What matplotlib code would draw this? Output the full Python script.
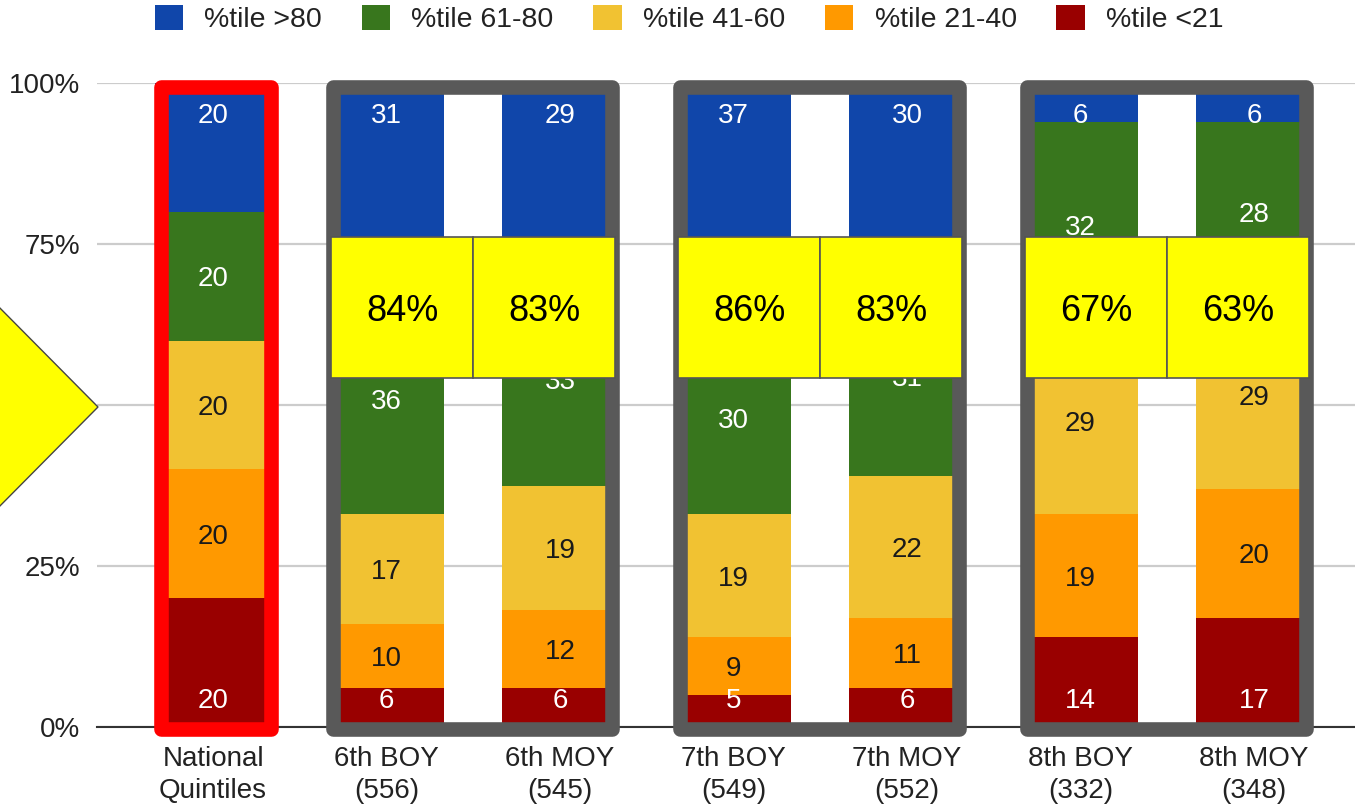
import numpy as np
import matplotlib
matplotlib.use('Agg')
import matplotlib.pyplot as plt
from matplotlib.patches import Rectangle, Polygon, Patch

plt.rcParams['font.family'] = ['Liberation Sans', 'DejaVu Sans']

# data
categories = ['National\nQuintiles', '6th BOY\n(556)', '6th MOY\n(545)', '7th BOY\n(549)',
              '7th MOY\n(552)', '8th BOY\n(332)', '8th MOY\n(348)']
# bottom to top
below21 = [20, 6, 6, 5, 6, 14, 17]
p21_40 = [20, 10, 12, 9, 11, 19, 20]
p41_60 = [20, 17, 19, 19, 22, 29, 29]
p61_80 = [20, 36, 33, 30, 31, 32, 28]
above80 = [20, 31, 29, 37, 30, 6, 6]
# share at or above 41st percentile, shown in the yellow boxes
top3_share = ['84%', '83%', '86%', '83%', '67%', '63%']

series_names = ['%tile <21', '%tile 21-40', '%tile 41-60', '%tile 61-80', '%tile >80']
colors = ['#990000', '#FF9900', '#F1C232', '#38761D', '#1046AA']
text_colors = ['white', '#1a1a1a', '#1a1a1a', 'white', 'white']

vals = np.array([below21, p21_40, p41_60, p61_80, above80], dtype=float)
shares = vals / vals.sum(axis=0)   # 100% stacked

fig = plt.figure(figsize=(13.55, 8.09), dpi=100)
ax = fig.add_axes([97 / 1355, 1 - 727 / 809, 1 - 97 / 1355, (727 - 83) / 809])

x = np.arange(len(categories))
bw = 0.665
bottom = np.zeros(len(categories))
for j in range(5):
    ax.bar(x, shares[j], bw, bottom=bottom, color=colors[j], zorder=2, linewidth=0)
    for i in range(len(categories)):
        if j == 0:
            ly = 0.045
        elif j == 4:
            ly = 0.953
        else:
            ly = bottom[i] + shares[j][i] / 2
        ax.text(x[i], ly, '%d' % vals[j][i], ha='center', va='center_baseline',
                fontsize=20, color=text_colors[j], zorder=3)
    bottom += shares[j]

ax.set_xlim(-0.669, 6.582)
ax.set_ylim(0, 1)
ax.set_yticks([0, 0.25, 0.5, 0.75, 1.0])
ax.set_yticklabels(['0%', '25%', '50%', '75%', '100%'])
ax.set_xticks(x)
ax.set_xticklabels(categories, fontsize=20, linespacing=1.3)
ax.tick_params(axis='y', length=0, pad=12, labelsize=20, labelcolor='#222222')
ax.tick_params(axis='x', length=0, pad=14, labelcolor='#222222')
ax.grid(axis='y', color='#cccccc', linewidth=1.6, zorder=0)
ax.set_axisbelow(True)
for s in ['left', 'right', 'top']:
    ax.spines[s].set_visible(False)
ax.spines['bottom'].set_color('#333333')
ax.spines['bottom'].set_linewidth(1.5)

# frames round the groups
ax.add_patch(Rectangle((-0.30, -0.003), 0.635, 0.997, fill=False, edgecolor='#FF0000',
                       linewidth=10.5, joinstyle='round', clip_on=False, zorder=4))
pair_centers = [1.5, 3.5, 5.5]
for pc in pair_centers:
    ax.add_patch(Rectangle((pc - 0.81, -0.003), 1.61, 0.997, fill=False, edgecolor='#595959',
                           linewidth=10.5, joinstyle='round', clip_on=False, zorder=4))

# yellow boxes
bxw = 0.818
k = 0
for pc in pair_centers:
    for left in [pc - bxw, pc]:
        ax.add_patch(Rectangle((left, 0.542), bxw, 0.219, facecolor='#FFFF00',
                               edgecolor='#555555', linewidth=1.2, zorder=5, clip_on=False))
        ax.text(left + bxw / 2, 0.6515, top3_share[k], ha='center', va='center_baseline',
                fontsize=26, color='black', zorder=6)
        k += 1

# yellow arrow on the left
pts = [(-10, 298), (98, 407), (-10, 516)]
tri = Polygon([(px / 1355, 1 - py / 809) for px, py in pts], closed=True,
              transform=fig.transFigure, facecolor='#FFFF00', edgecolor='#444444',
              linewidth=1.0, zorder=10)
fig.add_artist(tri)

handles = [Patch(facecolor=colors[j], label=series_names[j]) for j in range(4, -1, -1)]
fig.legend(handles=handles, loc='center', bbox_to_anchor=(0.5085, 1 - 19 / 809), ncol=5,
           frameon=False, fontsize=20.5, handlelength=1.0, handleheight=1.0,
           handletextpad=0.74, columnspacing=1.4, labelcolor='#222222')

plt.savefig('out.png', dpi=100)
